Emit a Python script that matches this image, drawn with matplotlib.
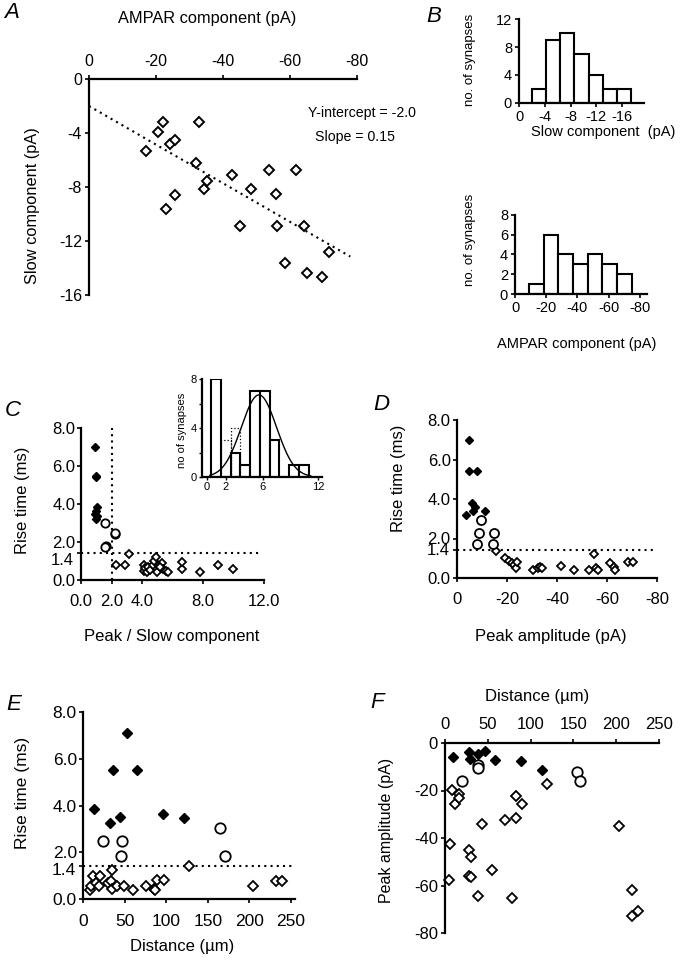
import numpy as np
import matplotlib
matplotlib.use("Agg")
import matplotlib.pyplot as plt

plt.rcParams['font.family'] = ['Liberation Sans', 'DejaVu Sans']
plt.rcParams['axes.unicode_minus'] = False

W, H = 681, 961

# ---- A: slow component vs AMPAR component ----
a_ampar = [-17.1, -20.7, -22.1, -24.3, -25.7, -23.1, -25.8, -32.8, -32.0, -34.2, -35.2, -42.7,
           -45.0, -48.5, -53.7, -55.7, -56.2, -61.9, -58.6, -64.1, -65.1, -69.6, -71.6]
a_slow = [-5.3, -3.95, -3.15, -4.8, -4.5, -9.6, -8.6, -3.15, -6.2, -8.15, -7.55, -7.1,
          -10.9, -8.15, -6.75, -8.5, -10.9, -6.75, -13.65, -10.9, -14.4, -14.7, -12.8]
fit_intercept = -2.0
fit_slope = 0.143

# ---- B: histograms ----
b_slow_edges = [-2.0, -4.2, -6.4, -8.6, -10.8, -13.0, -15.2, -17.4]
b_slow_counts = [2, 9, 10, 7, 4, 2, 2]
b_ampar_edges = [-9.0, -18.4, -27.8, -37.2, -46.6, -56.0, -65.4, -74.8]
b_ampar_counts = [1, 6, 4, 3, 4, 3, 2]

# ---- C: rise time vs peak/slow ratio ----
c_fill_x = [0.95, 1.0, 1.0, 1.05, 1.0, 0.95, 1.05, 1.0]
c_fill_y = [7.0, 5.45, 5.4, 3.85, 3.65, 3.45, 3.35, 3.2]
c_circ_x = [1.6, 2.2, 2.25, 1.65, 1.6]
c_circ_y = [3.0, 2.4, 2.45, 1.8, 1.75]
c_open_x = [2.3, 2.9, 3.15, 4.1, 4.1, 4.2, 4.3, 4.4, 4.5, 4.7, 4.8, 4.9, 5.0, 5.1, 5.3,
            5.4, 5.6, 5.7, 5.2, 6.6, 6.65, 7.8, 9.0, 9.95]
c_open_y = [0.8, 0.8, 1.38, 0.8, 0.5, 0.65, 0.4, 0.7, 0.55, 0.8, 1.0, 1.2, 0.4, 0.75, 0.9,
            0.6, 0.5, 0.4, 0.7, 0.57, 0.96, 0.4, 0.8, 0.57]

# inset histogram of peak/slow ratio
inset_edges = [0.45, 1.5, 2.55, 3.6, 4.65, 5.7, 6.75, 7.8, 8.85, 9.9, 10.95]
inset_counts = [8, 0, 2, 1, 7, 7, 3, 0, 1, 1]
inset_dot_edges = [1.5, 2.55, 3.6]
inset_dot_counts = [3, 4]
gauss_amp, gauss_mean, gauss_sd = 6.7, 5.6, 1.9

# ---- D: rise time vs peak amplitude ----
d_fill_x = [-4.7, -4.7, -7.9, -3.6, -6.0, -6.5, -7.3, -11.3]
d_fill_y = [7.0, 5.4, 5.4, 3.2, 3.8, 3.4, 3.6, 3.4]
d_circ_x = [-9.6, -8.9, -14.9, -7.9, -14.3]
d_circ_y = [2.95, 2.3, 2.3, 1.7, 1.7]
d_open_x = [-15.6, -19.3, -20.9, -22.0, -22.9, -23.6, -23.9, -30.3, -32.3, -33.2, -34.0,
            -41.6, -46.9, -52.9, -54.9, -55.6, -56.3, -61.0, -62.9, -63.3, -68.3, -70.5]
d_open_y = [1.39, 0.99, 0.87, 0.78, 0.64, 0.52, 0.82, 0.43, 0.52, 0.57, 0.52,
            0.61, 0.4, 0.43, 1.22, 0.52, 0.4, 0.78, 0.57, 0.4, 0.82, 0.82]

# ---- E: rise time vs distance ----
e_fill_x = [13.2, 32.4, 36.4, 44.4, 52.4, 65.2, 96.4, 122.0]
e_fill_y = [3.85, 3.27, 5.54, 3.49, 7.1, 5.51, 3.62, 3.45]
e_circ_x = [24.0, 47.2, 45.2, 164.4, 171.2]
e_circ_y = [2.46, 2.46, 1.82, 3.03, 1.82]
e_open_x = [8.4, 10.0, 12.4, 15.2, 19.2, 20.0, 30.4, 35.2, 33.2, 35.2, 41.2, 49.2, 60.4,
            75.2, 85.2, 87.2, 89.2, 97.2, 127.2, 204.0, 232.4, 239.2]
e_open_y = [0.4, 0.57, 0.99, 0.68, 0.54, 0.99, 0.68, 1.22, 0.75, 0.43, 0.57, 0.57, 0.4,
            0.57, 0.43, 0.37, 0.8, 0.8, 1.42, 0.54, 0.75, 0.75]

# ---- F: peak amplitude vs distance ----
f_fill_x = [9.7, 27.5, 29.0, 38.0, 46.9, 58.5, 88.4, 113.6]
f_fill_y = [-5.9, -3.9, -6.7, -4.5, -3.5, -7.0, -7.7, -11.2]
f_circ_x = [19.4, 39.1, 38.4, 154.3, 158.1]
f_circ_y = [-15.9, -9.1, -10.5, -12.4, -16.1]
f_open_x = [8.1, 12.0, 15.9, 16.7, 43.8, 70.2, 82.6, 82.6, 90.3, 118.6, 202.7, 5.8, 28.3,
            30.6, 5.0, 28.3, 30.6, 54.7, 38.0, 78.7, 219.0, 218.2, 225.2]
f_open_y = [-19.6, -25.5, -21.3, -23.2, -34.0, -32.3, -31.6, -22.5, -25.5, -17.1, -35.1,
            -42.4, -44.9, -48.0, -57.5, -55.9, -56.6, -53.6, -64.6, -65.3, -61.8, -72.7, -70.9]

rise_threshold = 1.4
ratio_threshold = 2.0

fig = plt.figure(figsize=(W / 100, H / 100), dpi=100)


def add_ax(left, top, right, bottom):
    return fig.add_axes([left / W, 1 - bottom / H, (right - left) / W, (bottom - top) / H])


def style(ax, spines=('left', 'bottom'), size=12, pad=3):
    for s in ax.spines:
        ax.spines[s].set_visible(s in spines)
        ax.spines[s].set_linewidth(1.6)
    ax.tick_params(direction='out', length=3, width=1.2, labelsize=size, pad=pad)
    ax.patch.set_alpha(0)


def ftext(x, y, s, **kw):
    fig.text(x / W, 1 - y / H, s, ha='center', va='center', **kw)


def three_groups(ax, fx, fy, cx, cy, ox, oy, ms=4.4, cms=6.5):
    ax.plot(ox, oy, 'D', ms=ms, mfc='white', mec='black', mew=1.3, ls='none', clip_on=False)
    ax.plot(cx, cy, 'o', ms=cms, mfc='white', mec='black', mew=1.3, ls='none', clip_on=False)
    ax.plot(fx, fy, 'D', ms=ms, mfc='black', mec='black', mew=1.0, ls='none', clip_on=False)


def rise_ticks(ax, label_shift, size=12):
    ax.set_ylim(0, 8)
    ax.set_yticks([0, 1.4, 2, 4, 6, 8])
    ax.set_yticklabels(['0.0', '', '2.0', '4.0', '6.0', '8.0'])
    ax.annotate('1.4', xy=(0, 1.4), xycoords=('axes fraction', 'data'),
                xytext=(-5, -label_shift), textcoords='offset points',
                ha='right', va='center', fontsize=size)


dots = (0, (1, 2))

# ---------- A ----------
ax = add_ax(89, 79, 357, 295)
style(ax, spines=('left', 'top'), size=11.5, pad=2)
ax.xaxis.tick_top()
ax.tick_params(axis='x', pad=4)
ax.set_xlim(0, -80)
ax.set_ylim(-16, 0)
ax.set_xticks([0, -20, -40, -60, -80])
ax.set_yticks([0, -4, -8, -12, -16])
ax.plot(a_ampar, a_slow, 'D', ms=4.6, mfc='white', mec='black', mew=1.4, ls='none')
fit_x = np.array([0, -78])
ax.plot(fit_x, fit_intercept + fit_slope * fit_x, color='black', lw=1.5, ls=dots)
ftext(207, 18, 'AMPAR component (pA)', fontsize=11.8)
ftext(33, 206, 'Slow component (pA)', fontsize=11.8, rotation=90)
fig.text(308 / W, 1 - 113 / H, 'Y-intercept = -2.0', ha='left', va='center', fontsize=10.2)
fig.text(315 / W, 1 - 137 / H, 'Slope = 0.15', ha='left', va='center', fontsize=10.2)

# ---------- B ----------
ax = add_ax(519, 19, 644, 103)
style(ax, size=10.5, pad=2)
ax.bar(b_slow_edges[:-1], b_slow_counts, width=np.diff(b_slow_edges), align='edge',
       color='white', edgecolor='black', lw=1.5)
ax.set_xlim(0, -19.4)
ax.set_ylim(0, 12)
ax.set_xticks([0, -4, -8, -12, -16])
ax.set_yticks([0, 4, 8, 12])
ftext(470, 60, 'no. of synapses', fontsize=9.5, rotation=90)
ftext(603, 132, 'Slow component  (pA)', fontsize=10.5)

ax = add_ax(515, 215, 647, 294)
style(ax, size=10.5, pad=2)
ax.bar(b_ampar_edges[:-1], b_ampar_counts, width=np.diff(b_ampar_edges), align='edge',
       color='white', edgecolor='black', lw=1.5)
ax.set_xlim(0, -84.6)
ax.set_ylim(0, 8)
ax.set_xticks([0, -20, -40, -60, -80])
ax.set_yticks([0, 2, 4, 6, 8])
ftext(470, 240, 'no. of synapses', fontsize=9.5, rotation=90)
ftext(577, 344, 'AMPAR component (pA)', fontsize=10.5)

# ---------- C ----------
ax = add_ax(81, 428, 264, 580)
style(ax, pad=1)
ax.tick_params(axis='x', pad=7)
ax.set_xlim(0, 12)
rise_ticks(ax, 5)
ax.set_xticks([0, 2, 4, 8, 12])
ax.set_xticklabels(['0.0', '2.0', '4.0', '8.0', '12.0'])
ax.plot([ratio_threshold, ratio_threshold], [0, 8], color='black', lw=1.5, ls=dots)
ax.plot([0, 11.7], [rise_threshold, rise_threshold], color='black', lw=1.5, ls=dots)
three_groups(ax, c_fill_x, c_fill_y, c_circ_x, c_circ_y, c_open_x, c_open_y, cms=6)
ftext(23, 500, 'Rise time (ms)', fontsize=12, rotation=90)
ftext(172, 637, 'Peak / Slow component', fontsize=12)

# inset
ax = add_ax(202, 379, 322, 477)
style(ax, size=8, pad=1.5)
ax.tick_params(length=2, width=1)
ax.bar(inset_edges[:-1], inset_counts, width=np.diff(inset_edges), align='edge',
       color='white', edgecolor='black', lw=1.5)
ax.bar(inset_dot_edges[:-1], inset_dot_counts, width=np.diff(inset_dot_edges), align='edge',
       fill=False, edgecolor='black', lw=0.9, ls=':')
gx = np.linspace(0.3, 11.2, 200)
ax.plot(gx, gauss_amp * np.exp(-(gx - gauss_mean) ** 2 / (2 * gauss_sd ** 2)),
        color='black', lw=1.0)
ax.set_xlim(-0.54, 12.4)
ax.set_ylim(0, 8)
ax.set_xticks([0, 2, 6, 12])
ax.set_yticks([0, 2, 4, 6, 8])
ax.set_yticklabels(['0', '', '4', '', '8'])
ftext(182, 430, 'no of synapses', fontsize=8, rotation=90)

# ---------- D ----------
ax = add_ax(457, 420, 657, 578)
style(ax, pad=1.5)
ax.tick_params(axis='x', pad=7)
ax.set_xlim(0, -80)
rise_ticks(ax, 0)
ax.set_xticks([0, -20, -40, -60, -80])
ax.plot([0, -80], [rise_threshold, rise_threshold], color='black', lw=1.5, ls=dots)
three_groups(ax, d_fill_x, d_fill_y, d_circ_x, d_circ_y, d_open_x, d_open_y)
ftext(398, 478, 'Rise time (ms)', fontsize=12, rotation=90)
ftext(551, 637, 'Peak amplitude (pA)', fontsize=12)

# ---------- E ----------
ax = add_ax(83, 712, 295, 899)
style(ax, size=12.5, pad=1.5)
ax.tick_params(axis='x', pad=8)
ax.set_xlim(0, 255)
rise_ticks(ax, 3, size=12.5)
ax.set_xticks([0, 50, 100, 150, 200, 250])
ax.plot([0, 255], [rise_threshold, rise_threshold], color='black', lw=1.5, ls=dots)
three_groups(ax, e_fill_x, e_fill_y, e_circ_x, e_circ_y, e_open_x, e_open_y, ms=4.6, cms=7.5)
ftext(23, 793, 'Rise time (ms)', fontsize=12.5, rotation=90)
ftext(182, 947, 'Distance (\u00b5m)', fontsize=12)

# ---------- F ----------
ax = add_ax(445, 743, 659, 933)
style(ax, spines=('left', 'top'), pad=2)
ax.xaxis.tick_top()
ax.tick_params(axis='x', pad=5)
ax.set_xlim(0, 247)
ax.set_ylim(-80, 0)
ax.set_xticks([0, 50, 100, 150, 200, 250])
ax.set_yticks([0, -20, -40, -60, -80])
three_groups(ax, f_fill_x, f_fill_y, f_circ_x, f_circ_y, f_open_x, f_open_y, ms=4.6, cms=7.5)
ftext(537, 697, 'Distance (\u00b5m)', fontsize=12)
ftext(387, 830, 'Peak amplitude (pA)', fontsize=11.5, rotation=90)

# panel letters
for letter, (lx, ly) in {'A': (12, 13), 'B': (434, 16), 'C': (13, 411), 'D': (381, 404),
                         'E': (14, 704), 'F': (377, 703)}.items():
    ftext(lx, ly, letter, fontsize=16, style='italic')

fig.savefig('out.png', dpi=100)
